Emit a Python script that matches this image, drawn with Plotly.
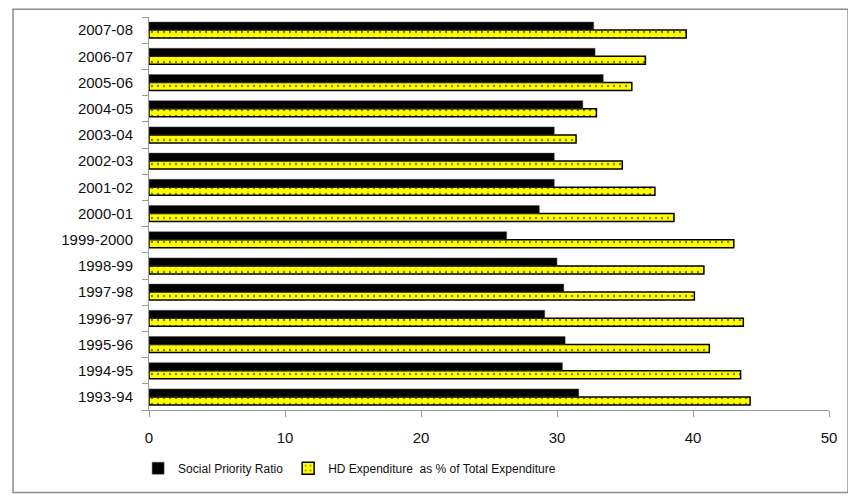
import plotly.graph_objects as go

categories = ["1993-94", "1994-95", "1995-96", "1996-97", "1997-98", "1998-99",
              "1999-2000", "2000-01", "2001-02", "2002-03", "2003-04", "2004-05",
              "2005-06", "2006-07", "2007-08"]
social_priority = [31.6, 30.4, 30.6, 29.1, 30.5, 30.0, 26.3, 28.7, 29.8, 29.8,
                   29.8, 31.9, 33.4, 32.8, 32.7]
hd_expenditure = [44.2, 43.5, 41.2, 43.7, 40.1, 40.8, 43.0, 38.6, 37.2, 34.8,
                  31.4, 32.9, 35.5, 36.5, 39.5]
x_ticks = [0, 10, 20, 30, 40, 50]

fig = go.Figure()
fig.add_trace(go.Bar(
    y=categories, x=hd_expenditure, orientation="h",
    name="HD Expenditure  as % of Total Expenditure",
    marker=dict(color="#FFFF00", line=dict(color="#000000", width=1.5),
                pattern=dict(shape=".", fgcolor="#000000", size=6, solidity=0.12)),
    legendrank=2,
))
fig.add_trace(go.Bar(
    y=categories, x=social_priority, orientation="h",
    name="Social Priority Ratio",
    marker=dict(color="#000000", line=dict(color="#555555", width=0.5)),
    legendrank=1,
))

# page body has an 8px margin, so the figure is 8px smaller and margins shifted
fig.update_layout(
    width=848, height=489,
    margin=dict(l=141, r=27, t=9, b=87),
    paper_bgcolor="white", plot_bgcolor="white",
    barmode="group", bargap=0.39, bargroupgap=0,
    font=dict(family="Liberation Sans, Arial, sans-serif", color="#111111"),
    showlegend=True,
    legend=dict(orientation="h", x=-0.016, xanchor="left", y=-0.148, yanchor="middle",
                font=dict(size=12, color="#111111"), bgcolor="rgba(0,0,0,0)",
                itemwidth=30),
    shapes=[dict(type="rect", xref="paper", yref="paper",
                 x0=-0.2, x1=1.028, y0=-0.21, y1=1.02,
                 line=dict(color="#8c8c8c", width=1.5), fillcolor="rgba(0,0,0,0)",
                 layer="above")],
)
fig.update_xaxes(
    range=[0, 50], tickvals=x_ticks, ticks="outside", ticklen=6,
    tickcolor="#9a9a9a", showline=True, linecolor="#9a9a9a", linewidth=1,
    showgrid=False, zeroline=False, tickfont=dict(size=15, color="#111111"),
    ticklabelstandoff=8,
)
fig.update_yaxes(
    type="category", categoryorder="array", categoryarray=categories,
    tickson="boundaries", ticks="outside", ticklen=6, tickcolor="#9a9a9a",
    showline=True, linecolor="#9a9a9a", linewidth=1, showgrid=False,
    tickfont=dict(size=15, color="#111111"), ticklabelstandoff=12,
)

fig.write_html("out.html")
